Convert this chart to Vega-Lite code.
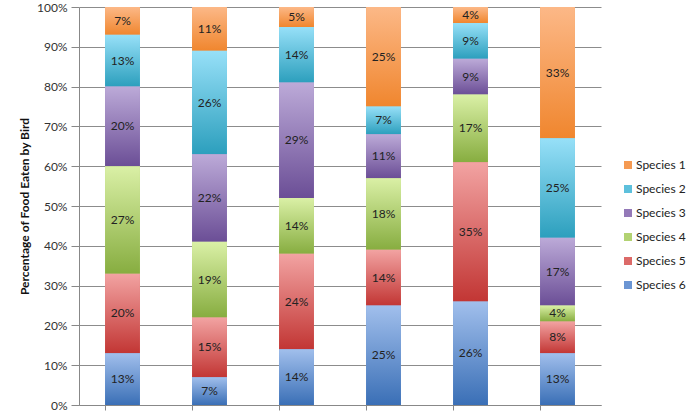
{
  "$schema": "https://vega.github.io/schema/vega-lite/v6.json",
  "width": 522,
  "height": 398,
  "autosize": {"type": "none"},
  "padding": {"left": 79, "top": 7, "right": 99, "bottom": 9},
  "background": "white",
  "config": {"font": "Lato", "view": {"stroke": null}},
  "data": {
    "values": [
      {"bar": "1", "species": "Species 1", "value": 0.07},
      {"bar": "1", "species": "Species 2", "value": 0.13},
      {"bar": "1", "species": "Species 3", "value": 0.20},
      {"bar": "1", "species": "Species 4", "value": 0.27},
      {"bar": "1", "species": "Species 5", "value": 0.20},
      {"bar": "1", "species": "Species 6", "value": 0.13},
      {"bar": "2", "species": "Species 1", "value": 0.11},
      {"bar": "2", "species": "Species 2", "value": 0.26},
      {"bar": "2", "species": "Species 3", "value": 0.22},
      {"bar": "2", "species": "Species 4", "value": 0.19},
      {"bar": "2", "species": "Species 5", "value": 0.15},
      {"bar": "2", "species": "Species 6", "value": 0.07},
      {"bar": "3", "species": "Species 1", "value": 0.05},
      {"bar": "3", "species": "Species 2", "value": 0.14},
      {"bar": "3", "species": "Species 3", "value": 0.29},
      {"bar": "3", "species": "Species 4", "value": 0.14},
      {"bar": "3", "species": "Species 5", "value": 0.24},
      {"bar": "3", "species": "Species 6", "value": 0.14},
      {"bar": "4", "species": "Species 1", "value": 0.25},
      {"bar": "4", "species": "Species 2", "value": 0.07},
      {"bar": "4", "species": "Species 3", "value": 0.11},
      {"bar": "4", "species": "Species 4", "value": 0.18},
      {"bar": "4", "species": "Species 5", "value": 0.14},
      {"bar": "4", "species": "Species 6", "value": 0.25},
      {"bar": "5", "species": "Species 1", "value": 0.04},
      {"bar": "5", "species": "Species 2", "value": 0.09},
      {"bar": "5", "species": "Species 3", "value": 0.09},
      {"bar": "5", "species": "Species 4", "value": 0.17},
      {"bar": "5", "species": "Species 5", "value": 0.35},
      {"bar": "5", "species": "Species 6", "value": 0.26},
      {"bar": "6", "species": "Species 1", "value": 0.33},
      {"bar": "6", "species": "Species 2", "value": 0.25},
      {"bar": "6", "species": "Species 3", "value": 0.17},
      {"bar": "6", "species": "Species 4", "value": 0.04},
      {"bar": "6", "species": "Species 5", "value": 0.08},
      {"bar": "6", "species": "Species 6", "value": 0.13}
    ]
  },
  "transform": [
    {"stack": "value", "groupby": ["bar"], "sort": [{"field": "species", "order": "descending"}], "as": ["v0", "v1"]},
    {"calculate": "(datum.v0 + datum.v1) / 2", "as": "vmid"}
  ],
  "encoding": {
    "x": {
      "field": "bar",
      "type": "nominal",
      "scale": {"paddingInner": 0.6, "paddingOuter": 0.3},
      "axis": {
        "labels": false,
        "title": null,
        "bandPosition": 0,
        "ticks": true,
        "tickSize": 5,
        "tickColor": "#888888",
        "domainColor": "#888888",
        "domainWidth": 1
      }
    },
    "y": {
      "field": "v0",
      "type": "quantitative",
      "scale": {"domain": [0, 1], "nice": false},
      "axis": {
        "format": ".0%",
        "values": [0, 0.1, 0.2, 0.3, 0.4, 0.5, 0.6, 0.7, 0.8, 0.9, 1],
        "grid": true,
        "gridColor": "#8c8c8c",
        "gridWidth": 1,
        "domainColor": "#888888",
        "tickColor": "#888888",
        "tickSize": 8,
        "labelFontSize": 12,
        "labelColor": "#333333",
        "labelPadding": 4,
        "title": "Percentage of Food Eaten by Bird",
        "titleFontSize": 12,
        "titleFontWeight": "bold",
        "titleColor": "#111111",
        "titlePadding": 5
      }
    },
    "y2": {"field": "v1"}
  },
  "layer": [
    {
      "mark": {"type": "bar"},
      "encoding": {
        "color": {
          "field": "species",
          "type": "nominal",
          "scale": {
            "domain": ["Species 1", "Species 2", "Species 3", "Species 4", "Species 5", "Species 6"],
            "range": ["#f59a52", "#5dc0dc", "#9479b8", "#b2d272", "#dc6a68", "#6b95d3"]
          },
          "legend": {
            "title": null,
            "orient": "none",
            "legendX": 543,
            "legendY": 152,
            "symbolType": "square",
            "symbolSize": 64,
            "symbolStrokeWidth": 0,
            "labelFontSize": 12,
            "labelColor": "#222222",
            "rowPadding": 12,
            "labelOffset": 2
          }
        }
      }
    },
    {
      "transform": [{"filter": "datum.species == 'Species 1'"}],
      "mark": {"type": "bar", "color": {"gradient": "linear", "x1": 0, "y1": 0, "x2": 0, "y2": 1, "stops": [{"offset": 0, "color": "#fcb887"}, {"offset": 1, "color": "#f0862e"}]}}
    },
    {
      "transform": [{"filter": "datum.species == 'Species 2'"}],
      "mark": {"type": "bar", "color": {"gradient": "linear", "x1": 0, "y1": 0, "x2": 0, "y2": 1, "stops": [{"offset": 0, "color": "#97e0f8"}, {"offset": 1, "color": "#2c9fbd"}]}}
    },
    {
      "transform": [{"filter": "datum.species == 'Species 3'"}],
      "mark": {"type": "bar", "color": {"gradient": "linear", "x1": 0, "y1": 0, "x2": 0, "y2": 1, "stops": [{"offset": 0, "color": "#bcaad8"}, {"offset": 1, "color": "#6b4e96"}]}}
    },
    {
      "transform": [{"filter": "datum.species == 'Species 4'"}],
      "mark": {"type": "bar", "color": {"gradient": "linear", "x1": 0, "y1": 0, "x2": 0, "y2": 1, "stops": [{"offset": 0, "color": "#daf0a6"}, {"offset": 1, "color": "#87ad40"}]}}
    },
    {
      "transform": [{"filter": "datum.species == 'Species 5'"}],
      "mark": {"type": "bar", "color": {"gradient": "linear", "x1": 0, "y1": 0, "x2": 0, "y2": 1, "stops": [{"offset": 0, "color": "#f2a3a2"}, {"offset": 1, "color": "#c23634"}]}}
    },
    {
      "transform": [{"filter": "datum.species == 'Species 6'"}],
      "mark": {"type": "bar", "color": {"gradient": "linear", "x1": 0, "y1": 0, "x2": 0, "y2": 1, "stops": [{"offset": 0, "color": "#a1bfec"}, {"offset": 1, "color": "#3a6fb6"}]}}
    },
    {
      "mark": {"type": "text", "fontSize": 12, "color": "#222222", "baseline": "middle"},
      "encoding": {
        "y": {"field": "vmid", "type": "quantitative"},
        "y2": null,
        "text": {"field": "value", "type": "quantitative", "format": ".0%"}
      }
    }
  ]
}
